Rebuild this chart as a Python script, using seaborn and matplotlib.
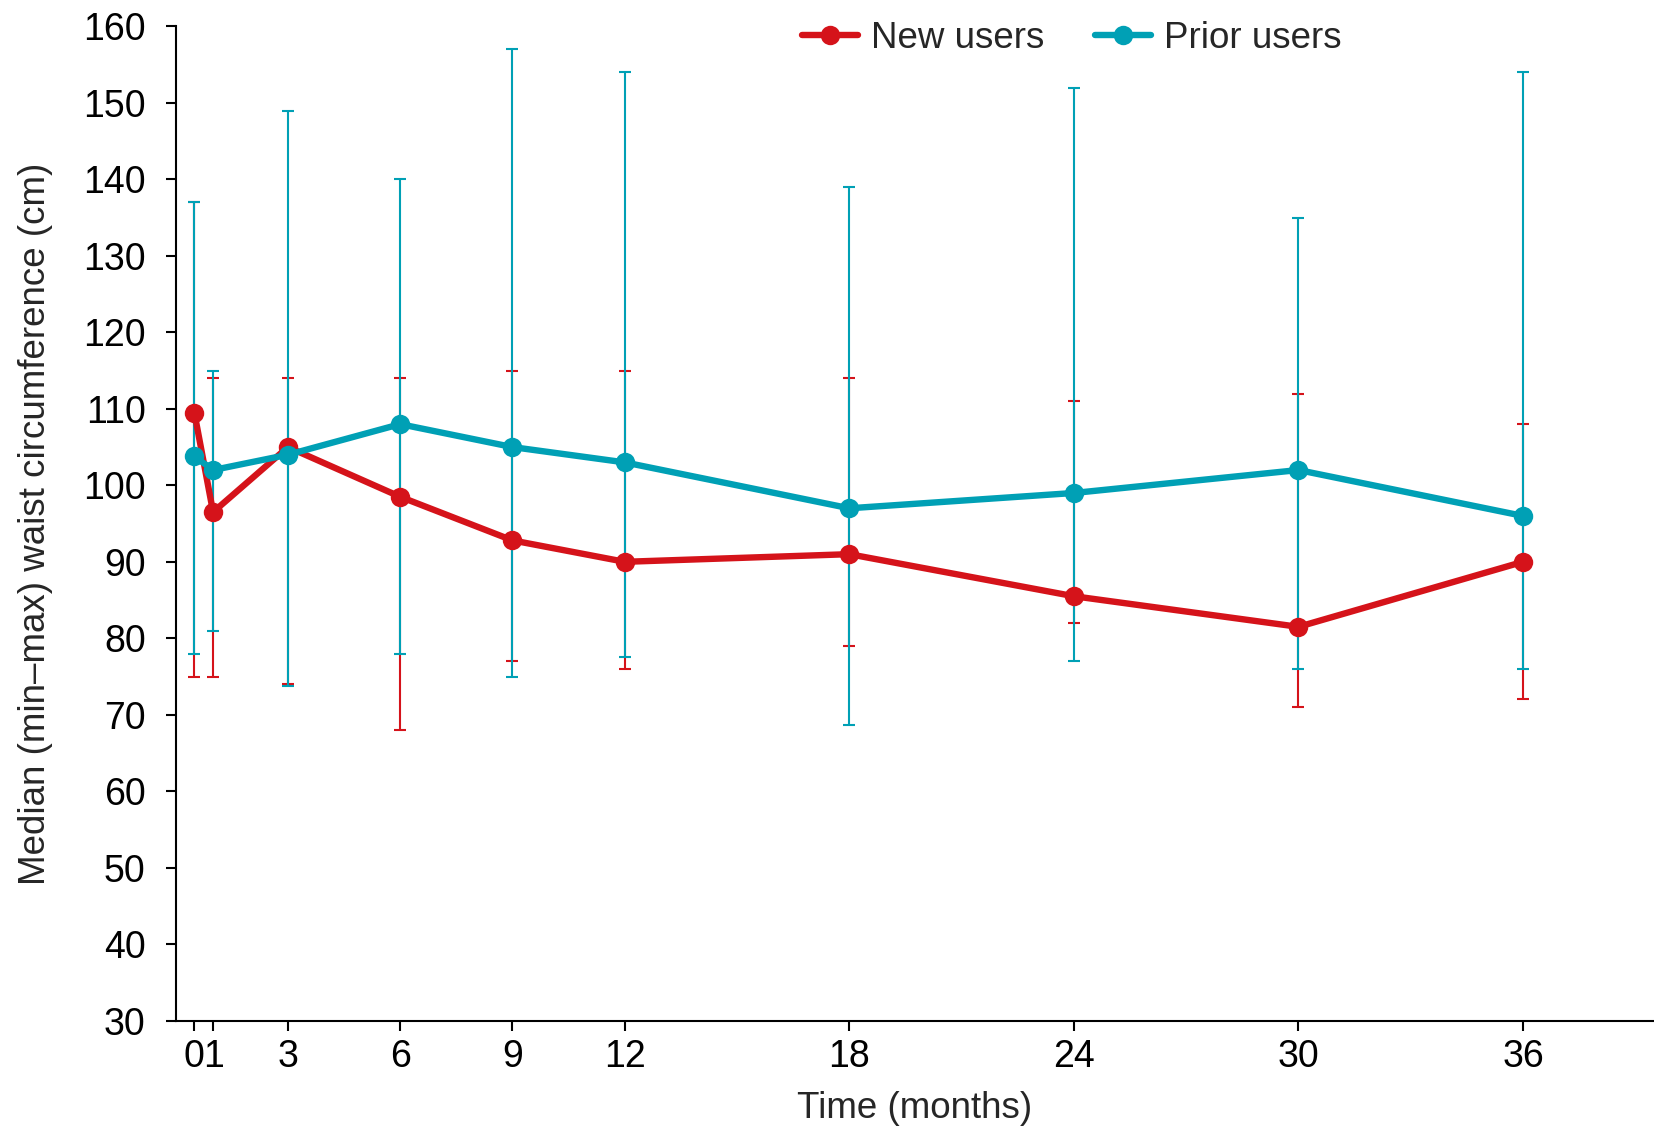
import numpy as np
import pandas as pd
import matplotlib
matplotlib.use('Agg')
import matplotlib.pyplot as plt
import seaborn as sns

sns.set_style('ticks')
plt.rcParams['font.family'] = ['Liberation Sans', 'DejaVu Sans']

# Months of follow-up
months = [0, 1, 3, 6, 9, 12, 18, 24, 30, 36]

# New users: median, min, max waist circumference (cm)
new_median = [109.5, 96.5, 105, 98.5, 92.8, 90, 91, 85.5, 81.5, 90]
new_min = [75, 75, 74, 68, 77, 76, 79, 82, 71, 72]
new_max = [137, 114, 114, 114, 115, 115, 114, 111, 112, 108]

# Prior users
prior_median = [103.8, 102, 104, 108, 105, 103, 97, 99, 102, 96]
prior_min = [78, 81, 73.8, 78, 75, 77.5, 68.6, 77, 76, 76]
prior_max = [137, 115, 149, 140, 157, 154, 139, 152, 135, 154]

RED = '#d5131a'
TEAL = '#00a0b5'

# baseline is nudged off the y axis in the original figure
xpos = [0.5 if m == 0 else m for m in months]

df = pd.DataFrame({
    'x': xpos * 2,
    'median': new_median + prior_median,
    'group': ['New users'] * len(months) + ['Prior users'] * len(months),
})

fig = plt.figure(figsize=(16.54, 11.29), dpi=100)
ax = fig.add_axes([0.1062, 0.0959, 0.8938, 0.8807])

# min-max bars first, lines on top
for med, lo, hi, col in [(new_median, new_min, new_max, RED),
                         (prior_median, prior_min, prior_max, TEAL)]:
    med = np.array(med)
    yerr = [med - np.array(lo), np.array(hi) - med]
    ax.errorbar(xpos, med, yerr=yerr, fmt='none', ecolor=col,
                elinewidth=1.5, capsize=4.3, capthick=1.5, zorder=2)

sns.lineplot(data=df, x='x', y='median', hue='group',
             palette={'New users': RED, 'Prior users': TEAL},
             marker='o', markersize=14, markeredgewidth=0, linewidth=4.6,
             ax=ax, zorder=3)

ax.set_xlim(0, 39.5)
ax.set_ylim(30, 160)
ax.set_yticks(np.arange(30, 161, 10))
ax.set_xticks(xpos)
ax.set_xticklabels([str(m) for m in months])
ax.tick_params(axis='both', labelsize=27, length=7.5, width=1.5, colors='black')
ax.tick_params(axis='y', pad=14)
ax.tick_params(axis='x', pad=6)
for s in ['top', 'right']:
    ax.spines[s].set_visible(False)
for s in ['left', 'bottom']:
    ax.spines[s].set_linewidth(1.5)
    ax.spines[s].set_color('black')

ax.set_xlabel('Time (months)', fontsize=26.5, labelpad=11)
ax.set_ylabel('Median (min\u2013max) waist circumference (cm)', fontsize=26.5, labelpad=22)

ax.legend(loc='center', bbox_to_anchor=(0.648, 0.9663), bbox_transform=fig.transFigure,
          ncol=2, frameon=False, fontsize=26.5, handlelength=1.5,
          columnspacing=1.4, handletextpad=0.35, borderpad=0, borderaxespad=0)

fig.savefig('out.png', dpi=100)
